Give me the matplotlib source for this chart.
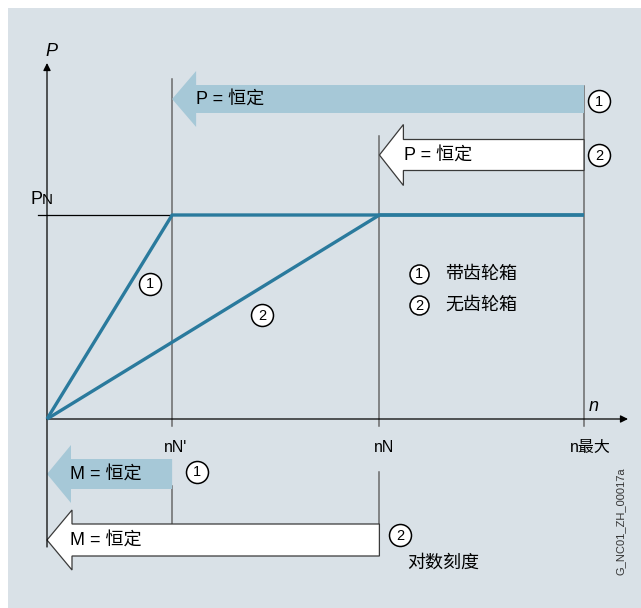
import matplotlib
matplotlib.use('Agg')
import matplotlib.pyplot as plt
from matplotlib.patches import Polygon, Rectangle

# ---------------- data ----------------
n_tick_labels = ["nN'", "nN", "n最大"]
n_vals = [0.233, 0.619, 1.0]          # nN', nN, nmax (relative speed)
P_N = 1.0
curve1_n = [0.0, 0.233, 1.0]          # with gearbox
curve1_P = [0.0, 1.0, 1.0]
curve2_n = [0.0, 0.619, 1.0]          # without gearbox
curve2_P = [0.0, 1.0, 1.0]
legend_labels = ["带齿轮箱", "无齿轮箱"]
text_P_const = "P = 恒定"
text_M_const = "M = 恒定"
scale_note = "对数刻度"
code_label = "G_NC01_ZH_00017a"

# ---------------- style ----------------
BG = '#d9e1e7'
LINE_BLUE = '#2a7a9d'
FILL_BLUE = '#a6c8d7'
GRAY = '#6a6a6a'
FAM = ['Liberation Sans', 'Noto Sans CJK SC', 'DejaVu Sans']
plt.rcParams['font.family'] = FAM

W, H = 641, 608
fig = plt.figure(figsize=(W / 100, H / 100), dpi=100)
fig.patch.set_facecolor('white')

ax = fig.add_axes([0, 0, 1, 1])
X0, Y0 = 47, 419      # pixel position of the origin
SX, SY = 537, 204     # pixels per unit
ax.set_xlim(-X0 / SX, (W - X0) / SX)
ax.set_ylim(-(H - Y0) / SY, Y0 / SY)
ax.axis('off')
ax.add_patch(Rectangle((8 / W, 0), (W - 8) / W, (H - 8) / H,
                       transform=fig.transFigure, facecolor=BG,
                       edgecolor='none', zorder=0))


def X(px):
    return (px - X0) / SX


def Y(py):
    return (Y0 - py) / SY


def block_arrow(x_tip, x_end, yc, head_len, head_h, body_h, fc, ec=None, lw=0.9):
    xb = x_tip + head_len / SX
    pts = [(x_tip, Y(yc)), (xb, Y(yc - head_h)), (xb, Y(yc - body_h)),
           (x_end, Y(yc - body_h)), (x_end, Y(yc + body_h)),
           (xb, Y(yc + body_h)), (xb, Y(yc + head_h))]
    ax.add_patch(Polygon(pts, closed=True, facecolor=fc,
                         edgecolor=ec if ec else 'none', lw=lw, zorder=3))


def circ(px, py, num, d=22):
    ax.plot([X(px)], [Y(py)], 'o', ms=d / 1.389, mfc='white', mec='black',
            mew=1.1, zorder=6)
    ax.text(X(px), Y(py) - 0.5 / SY, num, ha='center', va='center',
            fontsize=10.5, zorder=7, family=FAM)


nNp, nN, nmax = n_vals

# vertical gray guide lines
ax.plot([nNp, nNp], [Y(79), Y(426)], color=GRAY, lw=1.1, zorder=2)
ax.plot([nNp, nNp], [Y(486), Y(524)], color=GRAY, lw=1.1, zorder=2)
ax.plot([nN, nN], [Y(136), Y(426)], color=GRAY, lw=1.1, zorder=2)
ax.plot([nN, nN], [Y(472), Y(524)], color=GRAY, lw=1.1, zorder=2)
ax.plot([nmax, nmax], [Y(86), Y(426)], color=GRAY, lw=1.1, zorder=2)

# P_N reference line
ax.plot([X(38), nNp], [P_N, P_N], color='black', lw=0.9, zorder=2)

# axes
ax.annotate('', xy=(0, Y(63)), xytext=(0, Y(547)),
            arrowprops=dict(arrowstyle='-|>', color='black', lw=0.9,
                            mutation_scale=11, shrinkA=0, shrinkB=0), zorder=4)
ax.annotate('', xy=(X(628), 0), xytext=(0, 0),
            arrowprops=dict(arrowstyle='-|>', color='black', lw=0.9,
                            mutation_scale=11, shrinkA=0, shrinkB=0), zorder=4)

# curves
ax.plot(curve1_n, curve1_P, color=LINE_BLUE, lw=2.4, zorder=5,
        solid_capstyle='butt')
ax.plot(curve2_n, curve2_P, color=LINE_BLUE, lw=2.4, zorder=5,
        solid_capstyle='butt')

# arrows
block_arrow(nNp, nmax, 99, 24, 28, 14, FILL_BLUE)
block_arrow(nN, nmax, 155, 24, 30.5, 15.5, 'white', ec='#3a3a3a')
block_arrow(0, nNp, 474, 24, 29, 15, FILL_BLUE)
block_arrow(0, nN, 540, 25, 30, 16, 'white', ec='#3a3a3a')

ax.text(X(196), Y(99), text_P_const, ha='left', va='center', fontsize=13, zorder=6)
ax.text(X(404), Y(155), text_P_const, ha='left', va='center', fontsize=13, zorder=6)
ax.text(X(70), Y(474), text_M_const, ha='left', va='center', fontsize=13, zorder=6)
ax.text(X(70), Y(540), text_M_const, ha='left', va='center', fontsize=13, zorder=6)

# axis labels
ax.text(X(51), Y(51), 'P', ha='center', va='center', fontsize=13,
        style='italic', zorder=6)
ax.text(X(594), Y(411), 'n', ha='center', va='baseline', fontsize=13,
        style='italic', zorder=6)
ax.text(X(31), Y(204), 'P', ha='left', va='baseline', fontsize=13, zorder=6)
ax.text(X(41.5), Y(204), 'N', ha='left', va='baseline', fontsize=11, zorder=6)

# tick labels
for v, lab, off in zip(n_vals, n_tick_labels, [3, 5, 6]):
    ax.text(v + off / SX, Y(452), lab, ha='center', va='baseline',
            fontsize=11.5, zorder=6)

# numbered circles
circ(599, 101, '1')
circ(599, 155, '2')
circ(150, 284, '1')
circ(262, 315, '2')
circ(197, 472, '1')
circ(400, 535, '2')

# legend
for i, lab in enumerate(legend_labels):
    yy = 274 + 31 * i
    circ(419, yy, str(i + 1), d=19)
    ax.text(X(445), Y(yy), lab, ha='left', va='center', fontsize=13, zorder=6)

ax.text(X(407), Y(563), scale_note, ha='left', va='center', fontsize=13, zorder=6)
ax.text(X(621), Y(521), code_label, ha='center', va='center', fontsize=8,
        rotation=90, color='#333333', zorder=6)

fig.savefig('out.png', dpi=100, facecolor=fig.get_facecolor())
